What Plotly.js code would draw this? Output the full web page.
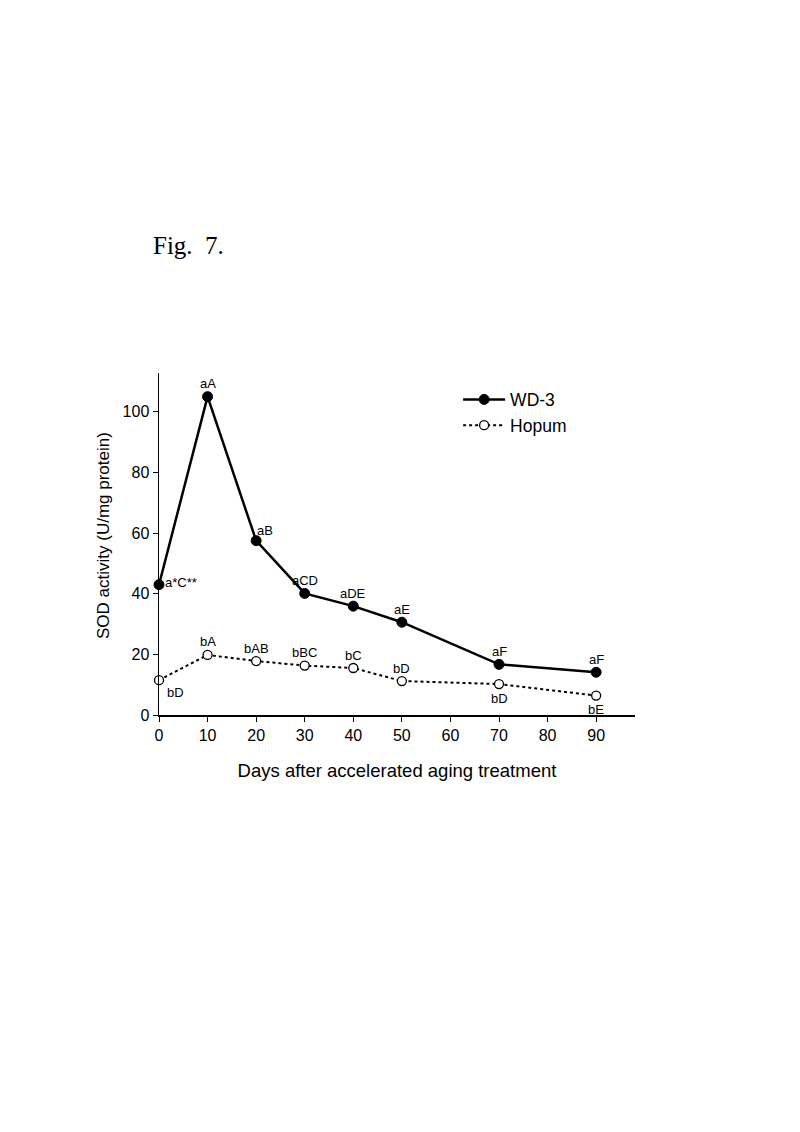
<!DOCTYPE html>
<html>
<head>
<meta charset="utf-8">
<script src="https://cdn.plot.ly/plotly-3.0.1.min.js"></script>
<style>
html,body{margin:0;padding:0;background:#fff;}
#chart{width:800px;height:1132px;}
</style>
</head>
<body>
<div id="chart"></div>
<script>
// ---- data ----
const days = [0, 10, 20, 30, 40, 50, 70, 90];
const wd3 = [43, 105, 57.5, 40.1, 35.9, 30.6, 16.7, 14.1];
const hopum = [11.5, 19.8, 17.8, 16.3, 15.5, 11.2, 10.2, 6.4];
const wd3Labels = ['a*C**', 'aA', 'aB', 'aCD', 'aDE', 'aE', 'aF', 'aF'];
const hopumLabels = ['bD', 'bA', 'bAB', 'bBC', 'bC', 'bD', 'bD', 'bE'];
const xTicks = [0, 10, 20, 30, 40, 50, 60, 70, 80, 90];
const yTicks = [0, 20, 40, 60, 80, 100];
const seriesNames = ['WD-3', 'Hopum'];
const xTitle = 'Days after accelerated aging treatment';
const yTitle = 'SOD activity (U/mg protein)';
const figLabel = 'Fig.&nbsp; 7.';

// ---- label placement (style) ----
const wd3Place = ['right', 'top', 'topright', 'top', 'top', 'top', 'top', 'top'];
const hopumPlace = ['bottomright', 'top', 'top', 'top', 'top', 'top', 'bottom', 'bottom'];

const placeMap = {
  top: {xshift: 0, yshift: 13, xanchor: 'center'},
  bottom: {xshift: 0, yshift: -14, xanchor: 'center'},
  right: {xshift: 4, yshift: 2, xanchor: 'left'},
  topright: {xshift: 9, yshift: 10, xanchor: 'center'},
  bottomright: {xshift: 16, yshift: -12, xanchor: 'center'}
};

const FONT = 'Liberation Sans, Arial, sans-serif';

function makeAnn(xs, ys, labels, places) {
  return xs.map((x, i) => Object.assign({
    x: x, y: ys[i], xref: 'x', yref: 'y', text: labels[i], showarrow: false,
    yanchor: 'middle',
    font: {family: FONT, size: 13, color: '#000'}
  }, placeMap[places[i]]));
}

const traces = [
  {
    x: days, y: wd3, name: seriesNames[0], type: 'scatter', mode: 'lines+markers',
    cliponaxis: false,
    line: {color: '#000', width: 2.5},
    marker: {color: '#000', size: 10, line: {color: '#000', width: 1}}
  },
  {
    x: days, y: hopum, name: seriesNames[1], type: 'scatter', mode: 'lines+markers',
    cliponaxis: false,
    line: {color: '#000', width: 2, dash: 'dot'},
    marker: {color: '#fff', size: 9, line: {color: '#000', width: 1.3}}
  }
];

const annotations = makeAnn(days, wd3, wd3Labels, wd3Place)
  .concat(makeAnn(days, hopum, hopumLabels, hopumPlace));

annotations.push({
  xref: 'paper', yref: 'paper', x: (151 - 159) / 476, y: (715 - 245) / 342,
  xanchor: 'left', yanchor: 'middle', showarrow: false, text: figLabel,
  font: {family: 'Liberation Serif, Times New Roman, serif', size: 25, color: '#000'}
});
annotations.push({
  xref: 'paper', yref: 'paper', x: (103 - 159) / 476, y: (715 - 536) / 342,
  xanchor: 'center', yanchor: 'middle', showarrow: false, textangle: -90,
  text: yTitle, font: {family: FONT, size: 17, color: '#000'}
});

const layout = {
  width: 800, height: 1132,
  margin: {l: 159, r: 165, t: 373, b: 417, pad: 0},
  paper_bgcolor: '#fff', plot_bgcolor: '#fff',
  showlegend: true,
  legend: {
    x: 0.6284, y: 0.975, xanchor: 'left', yanchor: 'top',
    bgcolor: 'rgba(0,0,0,0)', borderwidth: 0,
    font: {family: FONT, size: 17.5, color: '#000'},
    tracegroupgap: 0, itemwidth: 42
  },
  xaxis: {
    range: [0, 98], tickvals: xTicks, ticktext: xTicks.map(String),
    showgrid: false, zeroline: false, showline: true, linecolor: '#000', linewidth: 1.5,
    ticks: 'outside', ticklen: 5, tickwidth: 1, tickcolor: '#000',
    tickfont: {family: FONT, size: 16, color: '#000'},
    title: {text: xTitle, standoff: 21, font: {family: FONT, size: 18.5, color: '#000'}}
  },
  yaxis: {
    range: [0, 112.8], tickvals: yTicks, ticktext: yTicks.map(String),
    showgrid: false, zeroline: false, showline: true, linecolor: '#000', linewidth: 1.5,
    ticks: 'outside', ticklen: 5, tickwidth: 1, tickcolor: '#000',
    tickfont: {family: FONT, size: 16, color: '#000'}
  },
  annotations: annotations
};

Plotly.newPlot('chart', traces, layout, {displayModeBar: false, staticPlot: true});
</script>
</body>
</html>
